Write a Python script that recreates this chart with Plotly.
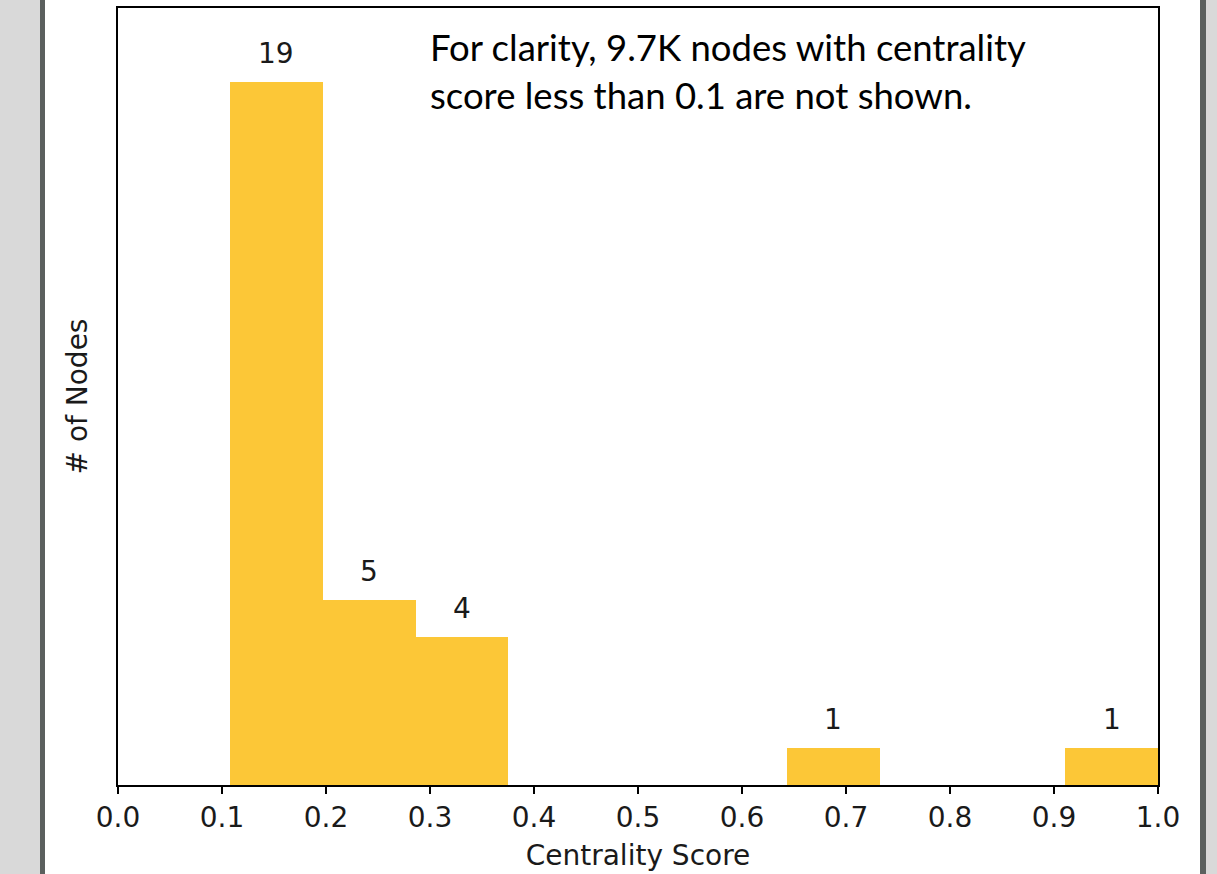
import plotly.graph_objects as go

# Histogram data (bins of centrality score, counts of nodes)
bin_edges = [0.1077, 0.1969, 0.2862, 0.3754, 0.4646, 0.5539, 0.6431, 0.7323, 0.8215, 0.9108, 1.0]
counts = [19, 5, 4, 0, 0, 0, 1, 0, 0, 1]
x_ticks = [0.0, 0.1, 0.2, 0.3, 0.4, 0.5, 0.6, 0.7, 0.8, 0.9, 1.0]
x_tick_labels = ["0.0", "0.1", "0.2", "0.3", "0.4", "0.5", "0.6", "0.7", "0.8", "0.9", "1.0"]
note_lines = ["For clarity, 9.7K nodes with centrality", "score less than 0.1 are not shown."]

centers = [(bin_edges[i] + bin_edges[i + 1]) / 2 for i in range(len(counts))]
widths = [bin_edges[i + 1] - bin_edges[i] for i in range(len(counts))]

W, H = 1217, 874
L, R, T, B = 118, 1158, 8, 785
pw, ph = R - L, B - T

def px_x(px):
    return (px - L) / pw

def px_y(py):
    return (B - py) / ph

fig = go.Figure()
fig.add_trace(go.Bar(
    x=centers, y=counts, width=widths,
    marker=dict(color="#fcc737", line=dict(width=0)),
    hoverinfo="x+y",
))

tick_font = dict(family="DejaVu Sans", size=28, color="#1a1a1a")

annotations = []
for c, v in zip(centers, counts):
    if v > 0:
        annotations.append(dict(
            x=c, y=v, xref="x", yref="y", text=str(v), showarrow=False,
            yanchor="bottom", yshift=10, font=tick_font,
        ))

note_font = dict(family="Lato", size=36.5, color="#000000")
annotations.append(dict(x=px_x(428), y=px_y(47), xref="paper", yref="paper",
                        text=note_lines[0], showarrow=False, xanchor="left",
                        yanchor="middle", font=note_font))
annotations.append(dict(x=px_x(428), y=px_y(95), xref="paper", yref="paper",
                        text=note_lines[1], showarrow=False, xanchor="left",
                        yanchor="middle", font=note_font))

gray = "#d9d9d9"
dark = "#5b605e"
shapes = [
    dict(type="rect", xref="paper", yref="paper", x0=px_x(-5), x1=px_x(40),
         y0=-0.3, y1=1.2, fillcolor=gray, line=dict(width=0), layer="below"),
    dict(type="rect", xref="paper", yref="paper", x0=px_x(40), x1=px_x(45),
         y0=-0.3, y1=1.2, fillcolor=dark, line=dict(width=0), layer="below"),
    dict(type="rect", xref="paper", yref="paper", x0=px_x(1200), x1=px_x(1206),
         y0=-0.3, y1=1.2, fillcolor=dark, line=dict(width=0), layer="below"),
    dict(type="rect", xref="paper", yref="paper", x0=px_x(1206), x1=px_x(1220),
         y0=-0.3, y1=1.2, fillcolor=gray, line=dict(width=0), layer="below"),
]

fig.update_layout(
    width=W, height=H,
    margin=dict(l=L, r=W - R, t=T, b=H - B, pad=0),
    paper_bgcolor="white", plot_bgcolor="white",
    bargap=0, showlegend=False,
    annotations=annotations, shapes=shapes,
    xaxis=dict(
        range=[0, 1], tickmode="array", tickvals=x_ticks, ticktext=x_tick_labels,
        ticks="outside", ticklen=7, tickwidth=1.5, tickcolor="#000",
        showline=True, linecolor="#000", linewidth=1.5, mirror=True,
        showgrid=False, zeroline=False, tickfont=tick_font, automargin=False,
        title=dict(text="Centrality Score", font=tick_font, standoff=12),
    ),
    yaxis=dict(
        range=[0, 21], showticklabels=False, ticks="",
        showline=True, linecolor="#000", linewidth=1.5, mirror=True,
        showgrid=False, zeroline=False, automargin=False,
        title=dict(text="# of Nodes", font=tick_font, standoff=20),
    ),
)

fig.write_html(
    "out.html",
    config={"displayModeBar": False},
    post_script="document.body.style.margin='0';document.body.style.overflow='hidden';",
)
